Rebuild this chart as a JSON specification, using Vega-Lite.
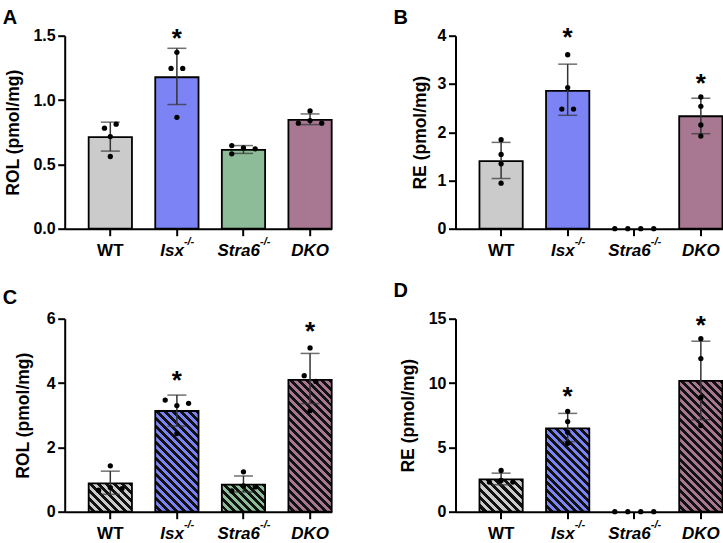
{
"$schema": "https://vega.github.io/schema/vega-lite/v6.json",
"padding": {"left": 2.7, "top": 7.7, "right": 0, "bottom": 0},
"config": {
 "view": {"stroke": null},
 "font": "Liberation Sans",
 "axis": {"grid": false, "domainColor": "#000", "domainWidth": 2, "tickColor": "#000", "tickWidth": 2, "labelColor": "#000", "labelFont": "Liberation Sans", "labelFontWeight": "bold", "labelFontSize": 16, "titleColor": "#000", "titleFont": "Liberation Sans", "titleFontWeight": "bold", "titleFontSize": 17.5},
 "axisY": {"tickSize": 7, "labelPadding": 2.5, "labelFlush": false, "labelOverlap": false},
 "title": {"font": "Liberation Sans", "fontWeight": "bold", "color": "#000", "anchor": "start", "frame": "group", "fontSize": 20, "baseline": "alphabetic", "offset": 0, "dx": -62},
 "text": {"font": "Liberation Sans"}
},
"datasets": {
 "bars": [
  {"p": "A", "g": "WT", "m": 0.711, "lo": 0.603, "hi": 0.828},
  {"p": "A", "g": "Isx", "m": 1.177, "lo": 0.965, "hi": 1.402, "star": 1.526},
  {"p": "A", "g": "Stra6", "m": 0.613, "lo": 0.585, "hi": 0.646},
  {"p": "A", "g": "DKO", "m": 0.846, "lo": 0.809, "hi": 0.892},
  {"p": "B", "g": "WT", "m": 1.40, "lo": 1.04, "hi": 1.789},
  {"p": "B", "g": "Isx", "m": 2.856, "lo": 2.35, "hi": 3.41, "star": 4.09},
  {"p": "B", "g": "DKO", "m": 2.33, "lo": 1.969, "hi": 2.704, "star": 3.14},
  {"p": "C", "g": "WT", "m": 0.88, "lo": 0.54, "hi": 1.26},
  {"p": "C", "g": "Isx", "m": 3.13, "lo": 2.66, "hi": 3.625, "star": 4.275},
  {"p": "C", "g": "Stra6", "m": 0.843, "lo": 0.61, "hi": 1.11},
  {"p": "C", "g": "DKO", "m": 4.10, "lo": 3.36, "hi": 4.92, "star": 5.79},
  {"p": "D", "g": "WT", "m": 2.504, "lo": 2.09, "hi": 2.995},
  {"p": "D", "g": "Isx", "m": 6.48, "lo": 5.45, "hi": 7.64, "star": 9.39},
  {"p": "D", "g": "DKO", "m": 10.17, "lo": 7.15, "hi": 13.25, "star": 14.95}
 ],
 "pts": [
  {"p": "A", "g": "WT", "v": 0.781, "lane": -1}, {"p": "A", "g": "WT", "v": 0.812, "lane": 1}, {"p": "A", "g": "WT", "v": 0.716, "lane": 0}, {"p": "A", "g": "WT", "v": 0.561, "lane": 0},
  {"p": "A", "g": "Isx", "v": 1.371, "lane": 0}, {"p": "A", "g": "Isx", "v": 1.246, "lane": -1}, {"p": "A", "g": "Isx", "v": 1.246, "lane": 1}, {"p": "A", "g": "Isx", "v": 0.866, "lane": 0},
  {"p": "A", "g": "Stra6", "v": 0.646, "lane": -2}, {"p": "A", "g": "Stra6", "v": 0.582, "lane": -2}, {"p": "A", "g": "Stra6", "v": 0.628, "lane": 0}, {"p": "A", "g": "Stra6", "v": 0.621, "lane": 2},
  {"p": "A", "g": "DKO", "v": 0.915, "lane": 0}, {"p": "A", "g": "DKO", "v": 0.82, "lane": -2}, {"p": "A", "g": "DKO", "v": 0.84, "lane": 0}, {"p": "A", "g": "DKO", "v": 0.82, "lane": 2},
  {"p": "B", "g": "WT", "v": 1.844, "lane": 0}, {"p": "B", "g": "WT", "v": 1.539, "lane": 0}, {"p": "B", "g": "WT", "v": 1.345, "lane": 0}, {"p": "B", "g": "WT", "v": 0.943, "lane": 0},
  {"p": "B", "g": "Isx", "v": 3.605, "lane": 0}, {"p": "B", "g": "Isx", "v": 2.925, "lane": 0}, {"p": "B", "g": "Isx", "v": 2.48, "lane": -1}, {"p": "B", "g": "Isx", "v": 2.48, "lane": 1},
  {"p": "B", "g": "Stra6", "v": 0, "lane": -3.33}, {"p": "B", "g": "Stra6", "v": 0, "lane": -1.11}, {"p": "B", "g": "Stra6", "v": 0, "lane": 1.11}, {"p": "B", "g": "Stra6", "v": 0, "lane": 3.33},
  {"p": "B", "g": "DKO", "v": 2.731, "lane": 0}, {"p": "B", "g": "DKO", "v": 2.537, "lane": 0}, {"p": "B", "g": "DKO", "v": 2.149, "lane": 0}, {"p": "B", "g": "DKO", "v": 1.92, "lane": 0},
  {"p": "C", "g": "WT", "v": 1.425, "lane": 0}, {"p": "C", "g": "WT", "v": 0.666, "lane": -2}, {"p": "C", "g": "WT", "v": 0.75, "lane": 0}, {"p": "C", "g": "WT", "v": 0.72, "lane": 2},
  {"p": "C", "g": "Isx", "v": 3.47, "lane": -2}, {"p": "C", "g": "Isx", "v": 3.37, "lane": 2}, {"p": "C", "g": "Isx", "v": 3.30, "lane": 0}, {"p": "C", "g": "Isx", "v": 2.43, "lane": 0},
  {"p": "C", "g": "Stra6", "v": 1.238, "lane": 0}, {"p": "C", "g": "Stra6", "v": 0.645, "lane": -2}, {"p": "C", "g": "Stra6", "v": 0.80, "lane": 0}, {"p": "C", "g": "Stra6", "v": 0.77, "lane": 2},
  {"p": "C", "g": "DKO", "v": 5.09, "lane": 0}, {"p": "C", "g": "DKO", "v": 4.23, "lane": -1}, {"p": "C", "g": "DKO", "v": 4.05, "lane": 1}, {"p": "C", "g": "DKO", "v": 3.14, "lane": 0},
  {"p": "D", "g": "WT", "v": 3.2, "lane": 0}, {"p": "D", "g": "WT", "v": 2.30, "lane": -2}, {"p": "D", "g": "WT", "v": 2.43, "lane": 0}, {"p": "D", "g": "WT", "v": 2.30, "lane": 2},
  {"p": "D", "g": "Isx", "v": 7.80, "lane": 0}, {"p": "D", "g": "Isx", "v": 7.0, "lane": 0}, {"p": "D", "g": "Isx", "v": 6.17, "lane": 0}, {"p": "D", "g": "Isx", "v": 5.32, "lane": 0},
  {"p": "D", "g": "Stra6", "v": 0, "lane": -3.33}, {"p": "D", "g": "Stra6", "v": 0, "lane": -1.11}, {"p": "D", "g": "Stra6", "v": 0, "lane": 1.11}, {"p": "D", "g": "Stra6", "v": 0, "lane": 3.33},
  {"p": "D", "g": "DKO", "v": 13.45, "lane": 0}, {"p": "D", "g": "DKO", "v": 11.9, "lane": 0}, {"p": "D", "g": "DKO", "v": 8.88, "lane": 0}, {"p": "D", "g": "DKO", "v": 6.69, "lane": 0}
 ]
},
"columns": 2,
"bounds": "flush",
"spacing": {"row": 90, "column": 123.8},
"concat": [
 {
  "width": 267, "height": 193,
  "title": {"text": "A", "dy": 6},
  "resolve": {"axis": {"x": "independent"}, "scale": {"xOffset": "independent"}},
  "layer": [
   {"data": {"name": "bars"}, "transform": [{"filter": "datum.p==='A'"}],
    "mark": {"type": "bar", "stroke": "#000", "strokeWidth": 1.8},
    "encoding": {
     "x": {"field": "g", "type": "nominal", "scale": {"domain": ["WT", "Isx", "Stra6", "DKO"], "paddingInner": 0.35, "paddingOuter": 0.18, "align": 1},
      "axis": {"title": null, "labelAngle": 0, "labelFontSize": 17, "labelPadding": 7, "tickSize": 7, "labelAlign": {"condition": {"test": "datum.value==='Isx'||datum.value==='Stra6'", "value": "right"}, "value": "center"}, "labelOffset": {"condition": [{"test": "datum.value==='Isx'", "value": 7}, {"test": "datum.value==='Stra6'", "value": 16.5}], "value": 0}, "labelFontStyle": {"condition": {"test": "datum.value==='WT'", "value": "normal"}, "value": "italic"}}},
     "y": {"field": "m", "type": "quantitative", "scale": {"domain": [0, 1.5], "nice": false}, "axis": {"values": [0, 0.5, 1, 1.5], "format": ".1f", "title": "ROL (pmol/mg)", "titlePadding": 10}},
     "fill": {"field": "g", "type": "nominal", "scale": {"domain": ["WT", "Isx", "Stra6", "DKO"], "range": ["#cbcbcb", "#7b83f5", "#8dbd98", "#a87893"]}, "legend": null}
    }},
   {"data": {"name": "bars"}, "transform": [{"filter": "datum.p==='A'"}],
    "mark": {"type": "rule", "color": "#333", "strokeWidth": 1.5},
    "encoding": {"x": {"field": "g", "type": "nominal", "axis": null}, "y": {"field": "lo", "type": "quantitative"}, "y2": {"field": "hi"}}},
   {"data": {"name": "bars"}, "transform": [{"filter": "datum.p==='A'"}],
    "mark": {"type": "tick", "color": "#333", "thickness": 1.5, "size": 19},
    "encoding": {"x": {"field": "g", "type": "nominal", "axis": null}, "y": {"field": "lo", "type": "quantitative"}}},
   {"data": {"name": "bars"}, "transform": [{"filter": "datum.p==='A'"}],
    "mark": {"type": "tick", "color": "#333", "thickness": 1.5, "size": 19},
    "encoding": {"x": {"field": "g", "type": "nominal", "axis": null}, "y": {"field": "hi", "type": "quantitative"}}},
   {"data": {"name": "pts"}, "transform": [{"filter": "datum.p==='A'"}],
    "mark": {"type": "circle", "size": 28, "color": "#000", "opacity": 1},
    "encoding": {
     "x": {"field": "g", "type": "nominal", "scale": {"domain": ["WT", "Isx", "Stra6", "DKO"], "paddingInner": 0.35, "paddingOuter": 0.18, "align": 1},
      "axis": {"orient": "bottom", "title": null, "domain": false, "ticks": false, "tickSize": 7, "labelAngle": 0, "labelFontSize": 11, "labelFontStyle": "italic", "labelAlign": "left", "labelPadding": 7, "labelExpr": "datum.value==='Isx'||datum.value==='Stra6' ? '-/-' : ''", "labelOffset": {"condition": [{"test": "datum.value==='Isx'", "value": 7}, {"test": "datum.value==='Stra6'", "value": 16.5}], "value": 0}}},
     "xOffset": {"field": "lane", "type": "quantitative", "scale": {"domain": [-1, 1], "range": [15.79, 27.49]}},
     "y": {"field": "v", "type": "quantitative"}
    }},
   {"data": {"name": "bars"}, "transform": [{"filter": "datum.p==='A' && datum.star != null"}],
    "mark": {"type": "text", "text": "*", "fontSize": 26, "fontWeight": "bold", "baseline": "alphabetic", "align": "center", "dy": 14.6, "color": "#000"},
    "encoding": {"x": {"field": "g", "type": "nominal", "axis": null}, "y": {"field": "star", "type": "quantitative"}}}
  ]
 },
 {
  "width": 267, "height": 193,
  "title": {"text": "B", "dy": 7.4},
  "resolve": {"axis": {"x": "independent"}, "scale": {"xOffset": "independent"}},
  "layer": [
   {"data": {"name": "bars"}, "transform": [{"filter": "datum.p==='B'"}],
    "mark": {"type": "bar", "stroke": "#000", "strokeWidth": 1.8},
    "encoding": {
     "x": {"field": "g", "type": "nominal", "scale": {"domain": ["WT", "Isx", "Stra6", "DKO"], "paddingInner": 0.35, "paddingOuter": 0.18, "align": 1},
      "axis": {"title": null, "labelAngle": 0, "labelFontSize": 17, "labelPadding": 7, "tickSize": 7, "labelAlign": {"condition": {"test": "datum.value==='Isx'||datum.value==='Stra6'", "value": "right"}, "value": "center"}, "labelOffset": {"condition": [{"test": "datum.value==='Isx'", "value": 7}, {"test": "datum.value==='Stra6'", "value": 16.5}], "value": 0}, "labelFontStyle": {"condition": {"test": "datum.value==='WT'", "value": "normal"}, "value": "italic"}}},
     "y": {"field": "m", "type": "quantitative", "scale": {"domain": [0, 4], "nice": false}, "axis": {"values": [0, 1, 2, 3, 4], "title": "RE (pmol/mg)", "titlePadding": 8}},
     "fill": {"field": "g", "type": "nominal", "scale": {"domain": ["WT", "Isx", "Stra6", "DKO"], "range": ["#cbcbcb", "#7b83f5", "#8dbd98", "#a87893"]}, "legend": null}
    }},
   {"data": {"name": "bars"}, "transform": [{"filter": "datum.p==='B'"}],
    "mark": {"type": "rule", "color": "#333", "strokeWidth": 1.5},
    "encoding": {"x": {"field": "g", "type": "nominal", "axis": null}, "y": {"field": "lo", "type": "quantitative"}, "y2": {"field": "hi"}}},
   {"data": {"name": "bars"}, "transform": [{"filter": "datum.p==='B'"}],
    "mark": {"type": "tick", "color": "#333", "thickness": 1.5, "size": 19},
    "encoding": {"x": {"field": "g", "type": "nominal", "axis": null}, "y": {"field": "lo", "type": "quantitative"}}},
   {"data": {"name": "bars"}, "transform": [{"filter": "datum.p==='B'"}],
    "mark": {"type": "tick", "color": "#333", "thickness": 1.5, "size": 19},
    "encoding": {"x": {"field": "g", "type": "nominal", "axis": null}, "y": {"field": "hi", "type": "quantitative"}}},
   {"data": {"name": "pts"}, "transform": [{"filter": "datum.p==='B'"}],
    "mark": {"type": "circle", "size": 28, "color": "#000", "opacity": 1},
    "encoding": {
     "x": {"field": "g", "type": "nominal", "scale": {"domain": ["WT", "Isx", "Stra6", "DKO"], "paddingInner": 0.35, "paddingOuter": 0.18, "align": 1},
      "axis": {"orient": "bottom", "title": null, "domain": false, "ticks": false, "tickSize": 7, "labelAngle": 0, "labelFontSize": 11, "labelFontStyle": "italic", "labelAlign": "left", "labelPadding": 7, "labelExpr": "datum.value==='Isx'||datum.value==='Stra6' ? '-/-' : ''", "labelOffset": {"condition": [{"test": "datum.value==='Isx'", "value": 7}, {"test": "datum.value==='Stra6'", "value": 16.5}], "value": 0}}},
     "xOffset": {"field": "lane", "type": "quantitative", "scale": {"domain": [-1, 1], "range": [15.79, 27.49]}},
     "y": {"field": "v", "type": "quantitative"}
    }},
   {"data": {"name": "bars"}, "transform": [{"filter": "datum.p==='B' && datum.star != null"}],
    "mark": {"type": "text", "text": "*", "fontSize": 26, "fontWeight": "bold", "baseline": "alphabetic", "align": "center", "dy": 14.6, "color": "#000"},
    "encoding": {"x": {"field": "g", "type": "nominal", "axis": null}, "y": {"field": "star", "type": "quantitative"}}}
  ]
 },
 {
  "width": 267, "height": 193,
  "title": {"text": "C", "dy": 1.5},
  "resolve": {"axis": {"x": "independent"}, "scale": {"xOffset": "independent"}},
  "layer": [
   {"data": {"name": "bars"}, "transform": [{"filter": "datum.p==='C'"}],
    "mark": {"type": "bar", "stroke": "#000", "strokeWidth": 1.8},
    "encoding": {
     "x": {"field": "g", "type": "nominal", "scale": {"domain": ["WT", "Isx", "Stra6", "DKO"], "paddingInner": 0.35, "paddingOuter": 0.18, "align": 1},
      "axis": {"title": null, "labelAngle": 0, "labelFontSize": 17, "labelPadding": 7, "tickSize": 7, "labelAlign": {"condition": {"test": "datum.value==='Isx'||datum.value==='Stra6'", "value": "right"}, "value": "center"}, "labelOffset": {"condition": [{"test": "datum.value==='Isx'", "value": 7}, {"test": "datum.value==='Stra6'", "value": 16.5}], "value": 0}, "labelFontStyle": {"condition": {"test": "datum.value==='WT'", "value": "normal"}, "value": "italic"}}},
     "y": {"field": "m", "type": "quantitative", "scale": {"domain": [0, 6], "nice": false}, "axis": {"values": [0, 2, 4, 6], "title": "ROL (pmol/mg)", "titlePadding": 13.7}},
     "fill": {"condition": [
      {"test": "datum.g==='WT'", "value": {"gradient": "linear", "x1": 0, "y1": 1, "x2": 1.1585, "y2": 0.2423, "stops": [
       {"offset": 0, "color": "#cbcbcb"},
       {"offset": 0.0556, "color": "#cbcbcb"}, {"offset": 0.0556, "color": "#111"},
       {"offset": 0.1111, "color": "#111"}, {"offset": 0.1111, "color": "#cbcbcb"},
       {"offset": 0.1667, "color": "#cbcbcb"}, {"offset": 0.1667, "color": "#111"},
       {"offset": 0.2222, "color": "#111"}, {"offset": 0.2222, "color": "#cbcbcb"},
       {"offset": 0.2778, "color": "#cbcbcb"}, {"offset": 0.2778, "color": "#111"},
       {"offset": 0.3333, "color": "#111"}, {"offset": 0.3333, "color": "#cbcbcb"},
       {"offset": 0.3889, "color": "#cbcbcb"}, {"offset": 0.3889, "color": "#111"},
       {"offset": 0.4444, "color": "#111"}, {"offset": 0.4444, "color": "#cbcbcb"},
       {"offset": 0.5, "color": "#cbcbcb"}, {"offset": 0.5, "color": "#111"},
       {"offset": 0.5556, "color": "#111"}, {"offset": 0.5556, "color": "#cbcbcb"},
       {"offset": 0.6111, "color": "#cbcbcb"}, {"offset": 0.6111, "color": "#111"},
       {"offset": 0.6667, "color": "#111"}, {"offset": 0.6667, "color": "#cbcbcb"},
       {"offset": 0.7222, "color": "#cbcbcb"}, {"offset": 0.7222, "color": "#111"},
       {"offset": 0.7778, "color": "#111"}, {"offset": 0.7778, "color": "#cbcbcb"},
       {"offset": 0.8333, "color": "#cbcbcb"}, {"offset": 0.8333, "color": "#111"},
       {"offset": 0.8889, "color": "#111"}, {"offset": 0.8889, "color": "#cbcbcb"},
       {"offset": 0.9444, "color": "#cbcbcb"}, {"offset": 0.9444, "color": "#111"},
       {"offset": 1, "color": "#111"}]}},
      {"test": "datum.g==='Isx'", "value": {"gradient": "linear", "x1": 0, "y1": 1, "x2": 0.5189, "y2": -0.2069, "stops": [
       {"offset": 0, "color": "#7b83f5"},
       {"offset": 0.0278, "color": "#7b83f5"}, {"offset": 0.0278, "color": "#111"},
       {"offset": 0.0556, "color": "#111"}, {"offset": 0.0556, "color": "#7b83f5"},
       {"offset": 0.0833, "color": "#7b83f5"}, {"offset": 0.0833, "color": "#111"},
       {"offset": 0.1111, "color": "#111"}, {"offset": 0.1111, "color": "#7b83f5"},
       {"offset": 0.1389, "color": "#7b83f5"}, {"offset": 0.1389, "color": "#111"},
       {"offset": 0.1667, "color": "#111"}, {"offset": 0.1667, "color": "#7b83f5"},
       {"offset": 0.1944, "color": "#7b83f5"}, {"offset": 0.1944, "color": "#111"},
       {"offset": 0.2222, "color": "#111"}, {"offset": 0.2222, "color": "#7b83f5"},
       {"offset": 0.25, "color": "#7b83f5"}, {"offset": 0.25, "color": "#111"},
       {"offset": 0.2778, "color": "#111"}, {"offset": 0.2778, "color": "#7b83f5"},
       {"offset": 0.3056, "color": "#7b83f5"}, {"offset": 0.3056, "color": "#111"},
       {"offset": 0.3333, "color": "#111"}, {"offset": 0.3333, "color": "#7b83f5"},
       {"offset": 0.3611, "color": "#7b83f5"}, {"offset": 0.3611, "color": "#111"},
       {"offset": 0.3889, "color": "#111"}, {"offset": 0.3889, "color": "#7b83f5"},
       {"offset": 0.4167, "color": "#7b83f5"}, {"offset": 0.4167, "color": "#111"},
       {"offset": 0.4444, "color": "#111"}, {"offset": 0.4444, "color": "#7b83f5"},
       {"offset": 0.4722, "color": "#7b83f5"}, {"offset": 0.4722, "color": "#111"},
       {"offset": 0.5, "color": "#111"}, {"offset": 0.5, "color": "#7b83f5"},
       {"offset": 0.5278, "color": "#7b83f5"}, {"offset": 0.5278, "color": "#111"},
       {"offset": 0.5556, "color": "#111"}, {"offset": 0.5556, "color": "#7b83f5"},
       {"offset": 0.5833, "color": "#7b83f5"}, {"offset": 0.5833, "color": "#111"},
       {"offset": 0.6111, "color": "#111"}, {"offset": 0.6111, "color": "#7b83f5"},
       {"offset": 0.6389, "color": "#7b83f5"}, {"offset": 0.6389, "color": "#111"},
       {"offset": 0.6667, "color": "#111"}, {"offset": 0.6667, "color": "#7b83f5"},
       {"offset": 0.6944, "color": "#7b83f5"}, {"offset": 0.6944, "color": "#111"},
       {"offset": 0.7222, "color": "#111"}, {"offset": 0.7222, "color": "#7b83f5"},
       {"offset": 0.75, "color": "#7b83f5"}, {"offset": 0.75, "color": "#111"},
       {"offset": 0.7778, "color": "#111"}, {"offset": 0.7778, "color": "#7b83f5"},
       {"offset": 0.8056, "color": "#7b83f5"}, {"offset": 0.8056, "color": "#111"},
       {"offset": 0.8333, "color": "#111"}, {"offset": 0.8333, "color": "#7b83f5"},
       {"offset": 0.8611, "color": "#7b83f5"}, {"offset": 0.8611, "color": "#111"},
       {"offset": 0.8889, "color": "#111"}, {"offset": 0.8889, "color": "#7b83f5"},
       {"offset": 0.9167, "color": "#7b83f5"}, {"offset": 0.9167, "color": "#111"},
       {"offset": 0.9444, "color": "#111"}, {"offset": 0.9444, "color": "#7b83f5"},
       {"offset": 0.9722, "color": "#7b83f5"}, {"offset": 0.9722, "color": "#111"},
       {"offset": 1, "color": "#111"}]}},
      {"test": "datum.g==='Stra6'", "value": {"gradient": "linear", "x1": 0, "y1": 1, "x2": 1.1683, "y2": 0.2688, "stops": [
       {"offset": 0, "color": "#8dbd98"},
       {"offset": 0.0556, "color": "#8dbd98"}, {"offset": 0.0556, "color": "#111"},
       {"offset": 0.1111, "color": "#111"}, {"offset": 0.1111, "color": "#8dbd98"},
       {"offset": 0.1667, "color": "#8dbd98"}, {"offset": 0.1667, "color": "#111"},
       {"offset": 0.2222, "color": "#111"}, {"offset": 0.2222, "color": "#8dbd98"},
       {"offset": 0.2778, "color": "#8dbd98"}, {"offset": 0.2778, "color": "#111"},
       {"offset": 0.3333, "color": "#111"}, {"offset": 0.3333, "color": "#8dbd98"},
       {"offset": 0.3889, "color": "#8dbd98"}, {"offset": 0.3889, "color": "#111"},
       {"offset": 0.4444, "color": "#111"}, {"offset": 0.4444, "color": "#8dbd98"},
       {"offset": 0.5, "color": "#8dbd98"}, {"offset": 0.5, "color": "#111"},
       {"offset": 0.5556, "color": "#111"}, {"offset": 0.5556, "color": "#8dbd98"},
       {"offset": 0.6111, "color": "#8dbd98"}, {"offset": 0.6111, "color": "#111"},
       {"offset": 0.6667, "color": "#111"}, {"offset": 0.6667, "color": "#8dbd98"},
       {"offset": 0.7222, "color": "#8dbd98"}, {"offset": 0.7222, "color": "#111"},
       {"offset": 0.7778, "color": "#111"}, {"offset": 0.7778, "color": "#8dbd98"},
       {"offset": 0.8333, "color": "#8dbd98"}, {"offset": 0.8333, "color": "#111"},
       {"offset": 0.8889, "color": "#111"}, {"offset": 0.8889, "color": "#8dbd98"},
       {"offset": 0.9444, "color": "#8dbd98"}, {"offset": 0.9444, "color": "#111"},
       {"offset": 1, "color": "#111"}]}}
     ],
     "value": {"gradient": "linear", "x1": 0, "y1": 1, "x2": 0.3936, "y2": -0.1991, "stops": [
       {"offset": 0, "color": "#a87893"},
       {"offset": 0.0227, "color": "#a87893"}, {"offset": 0.0227, "color": "#111"},
       {"offset": 0.0455, "color": "#111"}, {"offset": 0.0455, "color": "#a87893"},
       {"offset": 0.0682, "color": "#a87893"}, {"offset": 0.0682, "color": "#111"},
       {"offset": 0.0909, "color": "#111"}, {"offset": 0.0909, "color": "#a87893"},
       {"offset": 0.1136, "color": "#a87893"}, {"offset": 0.1136, "color": "#111"},
       {"offset": 0.1364, "color": "#111"}, {"offset": 0.1364, "color": "#a87893"},
       {"offset": 0.1591, "color": "#a87893"}, {"offset": 0.1591, "color": "#111"},
       {"offset": 0.1818, "color": "#111"}, {"offset": 0.1818, "color": "#a87893"},
       {"offset": 0.2045, "color": "#a87893"}, {"offset": 0.2045, "color": "#111"},
       {"offset": 0.2273, "color": "#111"}, {"offset": 0.2273, "color": "#a87893"},
       {"offset": 0.25, "color": "#a87893"}, {"offset": 0.25, "color": "#111"},
       {"offset": 0.2727, "color": "#111"}, {"offset": 0.2727, "color": "#a87893"},
       {"offset": 0.2955, "color": "#a87893"}, {"offset": 0.2955, "color": "#111"},
       {"offset": 0.3182, "color": "#111"}, {"offset": 0.3182, "color": "#a87893"},
       {"offset": 0.3409, "color": "#a87893"}, {"offset": 0.3409, "color": "#111"},
       {"offset": 0.3636, "color": "#111"}, {"offset": 0.3636, "color": "#a87893"},
       {"offset": 0.3864, "color": "#a87893"}, {"offset": 0.3864, "color": "#111"},
       {"offset": 0.4091, "color": "#111"}, {"offset": 0.4091, "color": "#a87893"},
       {"offset": 0.4318, "color": "#a87893"}, {"offset": 0.4318, "color": "#111"},
       {"offset": 0.4545, "color": "#111"}, {"offset": 0.4545, "color": "#a87893"},
       {"offset": 0.4773, "color": "#a87893"}, {"offset": 0.4773, "color": "#111"},
       {"offset": 0.5, "color": "#111"}, {"offset": 0.5, "color": "#a87893"},
       {"offset": 0.5227, "color": "#a87893"}, {"offset": 0.5227, "color": "#111"},
       {"offset": 0.5455, "color": "#111"}, {"offset": 0.5455, "color": "#a87893"},
       {"offset": 0.5682, "color": "#a87893"}, {"offset": 0.5682, "color": "#111"},
       {"offset": 0.5909, "color": "#111"}, {"offset": 0.5909, "color": "#a87893"},
       {"offset": 0.6136, "color": "#a87893"}, {"offset": 0.6136, "color": "#111"},
       {"offset": 0.6364, "color": "#111"}, {"offset": 0.6364, "color": "#a87893"},
       {"offset": 0.6591, "color": "#a87893"}, {"offset": 0.6591, "color": "#111"},
       {"offset": 0.6818, "color": "#111"}, {"offset": 0.6818, "color": "#a87893"},
       {"offset": 0.7045, "color": "#a87893"}, {"offset": 0.7045, "color": "#111"},
       {"offset": 0.7273, "color": "#111"}, {"offset": 0.7273, "color": "#a87893"},
       {"offset": 0.75, "color": "#a87893"}, {"offset": 0.75, "color": "#111"},
       {"offset": 0.7727, "color": "#111"}, {"offset": 0.7727, "color": "#a87893"},
       {"offset": 0.7955, "color": "#a87893"}, {"offset": 0.7955, "color": "#111"},
       {"offset": 0.8182, "color": "#111"}, {"offset": 0.8182, "color": "#a87893"},
       {"offset": 0.8409, "color": "#a87893"}, {"offset": 0.8409, "color": "#111"},
       {"offset": 0.8636, "color": "#111"}, {"offset": 0.8636, "color": "#a87893"},
       {"offset": 0.8864, "color": "#a87893"}, {"offset": 0.8864, "color": "#111"},
       {"offset": 0.9091, "color": "#111"}, {"offset": 0.9091, "color": "#a87893"},
       {"offset": 0.9318, "color": "#a87893"}, {"offset": 0.9318, "color": "#111"},
       {"offset": 0.9545, "color": "#111"}, {"offset": 0.9545, "color": "#a87893"},
       {"offset": 0.9773, "color": "#a87893"}, {"offset": 0.9773, "color": "#111"},
       {"offset": 1, "color": "#111"}]}
     }
    }},
   {"data": {"name": "bars"}, "transform": [{"filter": "datum.p==='C'"}],
    "mark": {"type": "rule", "color": "#333", "strokeWidth": 1.5},
    "encoding": {"x": {"field": "g", "type": "nominal", "axis": null}, "y": {"field": "lo", "type": "quantitative"}, "y2": {"field": "hi"}}},
   {"data": {"name": "bars"}, "transform": [{"filter": "datum.p==='C'"}],
    "mark": {"type": "tick", "color": "#333", "thickness": 1.5, "size": 19},
    "encoding": {"x": {"field": "g", "type": "nominal", "axis": null}, "y": {"field": "lo", "type": "quantitative"}}},
   {"data": {"name": "bars"}, "transform": [{"filter": "datum.p==='C'"}],
    "mark": {"type": "tick", "color": "#333", "thickness": 1.5, "size": 19},
    "encoding": {"x": {"field": "g", "type": "nominal", "axis": null}, "y": {"field": "hi", "type": "quantitative"}}},
   {"data": {"name": "pts"}, "transform": [{"filter": "datum.p==='C'"}],
    "mark": {"type": "circle", "size": 28, "color": "#000", "opacity": 1},
    "encoding": {
     "x": {"field": "g", "type": "nominal", "scale": {"domain": ["WT", "Isx", "Stra6", "DKO"], "paddingInner": 0.35, "paddingOuter": 0.18, "align": 1},
      "axis": {"orient": "bottom", "title": null, "domain": false, "ticks": false, "tickSize": 7, "labelAngle": 0, "labelFontSize": 11, "labelFontStyle": "italic", "labelAlign": "left", "labelPadding": 7, "labelExpr": "datum.value==='Isx'||datum.value==='Stra6' ? '-/-' : ''", "labelOffset": {"condition": [{"test": "datum.value==='Isx'", "value": 7}, {"test": "datum.value==='Stra6'", "value": 16.5}], "value": 0}}},
     "xOffset": {"field": "lane", "type": "quantitative", "scale": {"domain": [-1, 1], "range": [15.79, 27.49]}},
     "y": {"field": "v", "type": "quantitative"}
    }},
   {"data": {"name": "bars"}, "transform": [{"filter": "datum.p==='C' && datum.star != null"}],
    "mark": {"type": "text", "text": "*", "fontSize": 26, "fontWeight": "bold", "baseline": "alphabetic", "align": "center", "dy": 14.6, "color": "#000"},
    "encoding": {"x": {"field": "g", "type": "nominal", "axis": null}, "y": {"field": "star", "type": "quantitative"}}}
  ]
 },
 {
  "width": 267, "height": 193,
  "title": {"text": "D", "dy": -6},
  "resolve": {"axis": {"x": "independent"}, "scale": {"xOffset": "independent"}},
  "layer": [
   {"data": {"name": "bars"}, "transform": [{"filter": "datum.p==='D'"}],
    "mark": {"type": "bar", "stroke": "#000", "strokeWidth": 1.8},
    "encoding": {
     "x": {"field": "g", "type": "nominal", "scale": {"domain": ["WT", "Isx", "Stra6", "DKO"], "paddingInner": 0.35, "paddingOuter": 0.18, "align": 1},
      "axis": {"title": null, "labelAngle": 0, "labelFontSize": 17, "labelPadding": 7, "tickSize": 7, "labelAlign": {"condition": {"test": "datum.value==='Isx'||datum.value==='Stra6'", "value": "right"}, "value": "center"}, "labelOffset": {"condition": [{"test": "datum.value==='Isx'", "value": 7}, {"test": "datum.value==='Stra6'", "value": 16.5}], "value": 0}, "labelFontStyle": {"condition": {"test": "datum.value==='WT'", "value": "normal"}, "value": "italic"}}},
     "y": {"field": "m", "type": "quantitative", "scale": {"domain": [0, 15], "nice": false}, "axis": {"values": [0, 5, 10, 15], "title": "RE (pmol/mg)", "titlePadding": 10.8}},
     "fill": {"condition": [
      {"test": "datum.g==='WT'", "value": {"gradient": "linear", "x1": 0, "y1": 1, "x2": 1.1227, "y2": 0.1651, "stops": [
       {"offset": 0, "color": "#cbcbcb"},
       {"offset": 0.0556, "color": "#cbcbcb"}, {"offset": 0.0556, "color": "#111"},
       {"offset": 0.1111, "color": "#111"}, {"offset": 0.1111, "color": "#cbcbcb"},
       {"offset": 0.1667, "color": "#cbcbcb"}, {"offset": 0.1667, "color": "#111"},
       {"offset": 0.2222, "color": "#111"}, {"offset": 0.2222, "color": "#cbcbcb"},
       {"offset": 0.2778, "color": "#cbcbcb"}, {"offset": 0.2778, "color": "#111"},
       {"offset": 0.3333, "color": "#111"}, {"offset": 0.3333, "color": "#cbcbcb"},
       {"offset": 0.3889, "color": "#cbcbcb"}, {"offset": 0.3889, "color": "#111"},
       {"offset": 0.4444, "color": "#111"}, {"offset": 0.4444, "color": "#cbcbcb"},
       {"offset": 0.5, "color": "#cbcbcb"}, {"offset": 0.5, "color": "#111"},
       {"offset": 0.5556, "color": "#111"}, {"offset": 0.5556, "color": "#cbcbcb"},
       {"offset": 0.6111, "color": "#cbcbcb"}, {"offset": 0.6111, "color": "#111"},
       {"offset": 0.6667, "color": "#111"}, {"offset": 0.6667, "color": "#cbcbcb"},
       {"offset": 0.7222, "color": "#cbcbcb"}, {"offset": 0.7222, "color": "#111"},
       {"offset": 0.7778, "color": "#111"}, {"offset": 0.7778, "color": "#cbcbcb"},
       {"offset": 0.8333, "color": "#cbcbcb"}, {"offset": 0.8333, "color": "#111"},
       {"offset": 0.8889, "color": "#111"}, {"offset": 0.8889, "color": "#cbcbcb"},
       {"offset": 0.9444, "color": "#cbcbcb"}, {"offset": 0.9444, "color": "#111"},
       {"offset": 1, "color": "#111"}]}},
      {"test": "datum.g==='Isx'", "value": {"gradient": "linear", "x1": 0, "y1": 1, "x2": 0.6213, "y2": -0.1966, "stops": [
       {"offset": 0, "color": "#7b83f5"},
       {"offset": 0.0313, "color": "#7b83f5"}, {"offset": 0.0313, "color": "#111"},
       {"offset": 0.0625, "color": "#111"}, {"offset": 0.0625, "color": "#7b83f5"},
       {"offset": 0.0938, "color": "#7b83f5"}, {"offset": 0.0938, "color": "#111"},
       {"offset": 0.125, "color": "#111"}, {"offset": 0.125, "color": "#7b83f5"},
       {"offset": 0.1563, "color": "#7b83f5"}, {"offset": 0.1563, "color": "#111"},
       {"offset": 0.1875, "color": "#111"}, {"offset": 0.1875, "color": "#7b83f5"},
       {"offset": 0.2188, "color": "#7b83f5"}, {"offset": 0.2188, "color": "#111"},
       {"offset": 0.25, "color": "#111"}, {"offset": 0.25, "color": "#7b83f5"},
       {"offset": 0.2813, "color": "#7b83f5"}, {"offset": 0.2813, "color": "#111"},
       {"offset": 0.3125, "color": "#111"}, {"offset": 0.3125, "color": "#7b83f5"},
       {"offset": 0.3438, "color": "#7b83f5"}, {"offset": 0.3438, "color": "#111"},
       {"offset": 0.375, "color": "#111"}, {"offset": 0.375, "color": "#7b83f5"},
       {"offset": 0.4063, "color": "#7b83f5"}, {"offset": 0.4063, "color": "#111"},
       {"offset": 0.4375, "color": "#111"}, {"offset": 0.4375, "color": "#7b83f5"},
       {"offset": 0.4688, "color": "#7b83f5"}, {"offset": 0.4688, "color": "#111"},
       {"offset": 0.5, "color": "#111"}, {"offset": 0.5, "color": "#7b83f5"},
       {"offset": 0.5313, "color": "#7b83f5"}, {"offset": 0.5313, "color": "#111"},
       {"offset": 0.5625, "color": "#111"}, {"offset": 0.5625, "color": "#7b83f5"},
       {"offset": 0.5938, "color": "#7b83f5"}, {"offset": 0.5938, "color": "#111"},
       {"offset": 0.625, "color": "#111"}, {"offset": 0.625, "color": "#7b83f5"},
       {"offset": 0.6563, "color": "#7b83f5"}, {"offset": 0.6563, "color": "#111"},
       {"offset": 0.6875, "color": "#111"}, {"offset": 0.6875, "color": "#7b83f5"},
       {"offset": 0.7188, "color": "#7b83f5"}, {"offset": 0.7188, "color": "#111"},
       {"offset": 0.75, "color": "#111"}, {"offset": 0.75, "color": "#7b83f5"},
       {"offset": 0.7813, "color": "#7b83f5"}, {"offset": 0.7813, "color": "#111"},
       {"offset": 0.8125, "color": "#111"}, {"offset": 0.8125, "color": "#7b83f5"},
       {"offset": 0.8438, "color": "#7b83f5"}, {"offset": 0.8438, "color": "#111"},
       {"offset": 0.875, "color": "#111"}, {"offset": 0.875, "color": "#7b83f5"},
       {"offset": 0.9063, "color": "#7b83f5"}, {"offset": 0.9063, "color": "#111"},
       {"offset": 0.9375, "color": "#111"}, {"offset": 0.9375, "color": "#7b83f5"},
       {"offset": 0.9688, "color": "#7b83f5"}, {"offset": 0.9688, "color": "#111"},
       {"offset": 1, "color": "#111"}]}}
     ],
     "value": {"gradient": "linear", "x1": 0, "y1": 1, "x2": 0.3968, "y2": -0.1995, "stops": [
       {"offset": 0, "color": "#a87893"},
       {"offset": 0.0227, "color": "#a87893"}, {"offset": 0.0227, "color": "#111"},
       {"offset": 0.0455, "color": "#111"}, {"offset": 0.0455, "color": "#a87893"},
       {"offset": 0.0682, "color": "#a87893"}, {"offset": 0.0682, "color": "#111"},
       {"offset": 0.0909, "color": "#111"}, {"offset": 0.0909, "color": "#a87893"},
       {"offset": 0.1136, "color": "#a87893"}, {"offset": 0.1136, "color": "#111"},
       {"offset": 0.1364, "color": "#111"}, {"offset": 0.1364, "color": "#a87893"},
       {"offset": 0.1591, "color": "#a87893"}, {"offset": 0.1591, "color": "#111"},
       {"offset": 0.1818, "color": "#111"}, {"offset": 0.1818, "color": "#a87893"},
       {"offset": 0.2045, "color": "#a87893"}, {"offset": 0.2045, "color": "#111"},
       {"offset": 0.2273, "color": "#111"}, {"offset": 0.2273, "color": "#a87893"},
       {"offset": 0.25, "color": "#a87893"}, {"offset": 0.25, "color": "#111"},
       {"offset": 0.2727, "color": "#111"}, {"offset": 0.2727, "color": "#a87893"},
       {"offset": 0.2955, "color": "#a87893"}, {"offset": 0.2955, "color": "#111"},
       {"offset": 0.3182, "color": "#111"}, {"offset": 0.3182, "color": "#a87893"},
       {"offset": 0.3409, "color": "#a87893"}, {"offset": 0.3409, "color": "#111"},
       {"offset": 0.3636, "color": "#111"}, {"offset": 0.3636, "color": "#a87893"},
       {"offset": 0.3864, "color": "#a87893"}, {"offset": 0.3864, "color": "#111"},
       {"offset": 0.4091, "color": "#111"}, {"offset": 0.4091, "color": "#a87893"},
       {"offset": 0.4318, "color": "#a87893"}, {"offset": 0.4318, "color": "#111"},
       {"offset": 0.4545, "color": "#111"}, {"offset": 0.4545, "color": "#a87893"},
       {"offset": 0.4773, "color": "#a87893"}, {"offset": 0.4773, "color": "#111"},
       {"offset": 0.5, "color": "#111"}, {"offset": 0.5, "color": "#a87893"},
       {"offset": 0.5227, "color": "#a87893"}, {"offset": 0.5227, "color": "#111"},
       {"offset": 0.5455, "color": "#111"}, {"offset": 0.5455, "color": "#a87893"},
       {"offset": 0.5682, "color": "#a87893"}, {"offset": 0.5682, "color": "#111"},
       {"offset": 0.5909, "color": "#111"}, {"offset": 0.5909, "color": "#a87893"},
       {"offset": 0.6136, "color": "#a87893"}, {"offset": 0.6136, "color": "#111"},
       {"offset": 0.6364, "color": "#111"}, {"offset": 0.6364, "color": "#a87893"},
       {"offset": 0.6591, "color": "#a87893"}, {"offset": 0.6591, "color": "#111"},
       {"offset": 0.6818, "color": "#111"}, {"offset": 0.6818, "color": "#a87893"},
       {"offset": 0.7045, "color": "#a87893"}, {"offset": 0.7045, "color": "#111"},
       {"offset": 0.7273, "color": "#111"}, {"offset": 0.7273, "color": "#a87893"},
       {"offset": 0.75, "color": "#a87893"}, {"offset": 0.75, "color": "#111"},
       {"offset": 0.7727, "color": "#111"}, {"offset": 0.7727, "color": "#a87893"},
       {"offset": 0.7955, "color": "#a87893"}, {"offset": 0.7955, "color": "#111"},
       {"offset": 0.8182, "color": "#111"}, {"offset": 0.8182, "color": "#a87893"},
       {"offset": 0.8409, "color": "#a87893"}, {"offset": 0.8409, "color": "#111"},
       {"offset": 0.8636, "color": "#111"}, {"offset": 0.8636, "color": "#a87893"},
       {"offset": 0.8864, "color": "#a87893"}, {"offset": 0.8864, "color": "#111"},
       {"offset": 0.9091, "color": "#111"}, {"offset": 0.9091, "color": "#a87893"},
       {"offset": 0.9318, "color": "#a87893"}, {"offset": 0.9318, "color": "#111"},
       {"offset": 0.9545, "color": "#111"}, {"offset": 0.9545, "color": "#a87893"},
       {"offset": 0.9773, "color": "#a87893"}, {"offset": 0.9773, "color": "#111"},
       {"offset": 1, "color": "#111"}]}
     }
    }},
   {"data": {"name": "bars"}, "transform": [{"filter": "datum.p==='D'"}],
    "mark": {"type": "rule", "color": "#333", "strokeWidth": 1.5},
    "encoding": {"x": {"field": "g", "type": "nominal", "axis": null}, "y": {"field": "lo", "type": "quantitative"}, "y2": {"field": "hi"}}},
   {"data": {"name": "bars"}, "transform": [{"filter": "datum.p==='D'"}],
    "mark": {"type": "tick", "color": "#333", "thickness": 1.5, "size": 19},
    "encoding": {"x": {"field": "g", "type": "nominal", "axis": null}, "y": {"field": "lo", "type": "quantitative"}}},
   {"data": {"name": "bars"}, "transform": [{"filter": "datum.p==='D'"}],
    "mark": {"type": "tick", "color": "#333", "thickness": 1.5, "size": 19},
    "encoding": {"x": {"field": "g", "type": "nominal", "axis": null}, "y": {"field": "hi", "type": "quantitative"}}},
   {"data": {"name": "pts"}, "transform": [{"filter": "datum.p==='D'"}],
    "mark": {"type": "circle", "size": 28, "color": "#000", "opacity": 1},
    "encoding": {
     "x": {"field": "g", "type": "nominal", "scale": {"domain": ["WT", "Isx", "Stra6", "DKO"], "paddingInner": 0.35, "paddingOuter": 0.18, "align": 1},
      "axis": {"orient": "bottom", "title": null, "domain": false, "ticks": false, "tickSize": 7, "labelAngle": 0, "labelFontSize": 11, "labelFontStyle": "italic", "labelAlign": "left", "labelPadding": 7, "labelExpr": "datum.value==='Isx'||datum.value==='Stra6' ? '-/-' : ''", "labelOffset": {"condition": [{"test": "datum.value==='Isx'", "value": 7}, {"test": "datum.value==='Stra6'", "value": 16.5}], "value": 0}}},
     "xOffset": {"field": "lane", "type": "quantitative", "scale": {"domain": [-1, 1], "range": [15.79, 27.49]}},
     "y": {"field": "v", "type": "quantitative"}
    }},
   {"data": {"name": "bars"}, "transform": [{"filter": "datum.p==='D' && datum.star != null"}],
    "mark": {"type": "text", "text": "*", "fontSize": 26, "fontWeight": "bold", "baseline": "alphabetic", "align": "center", "dy": 14.6, "color": "#000"},
    "encoding": {"x": {"field": "g", "type": "nominal", "axis": null}, "y": {"field": "star", "type": "quantitative"}}}
  ]
 }
]
}
